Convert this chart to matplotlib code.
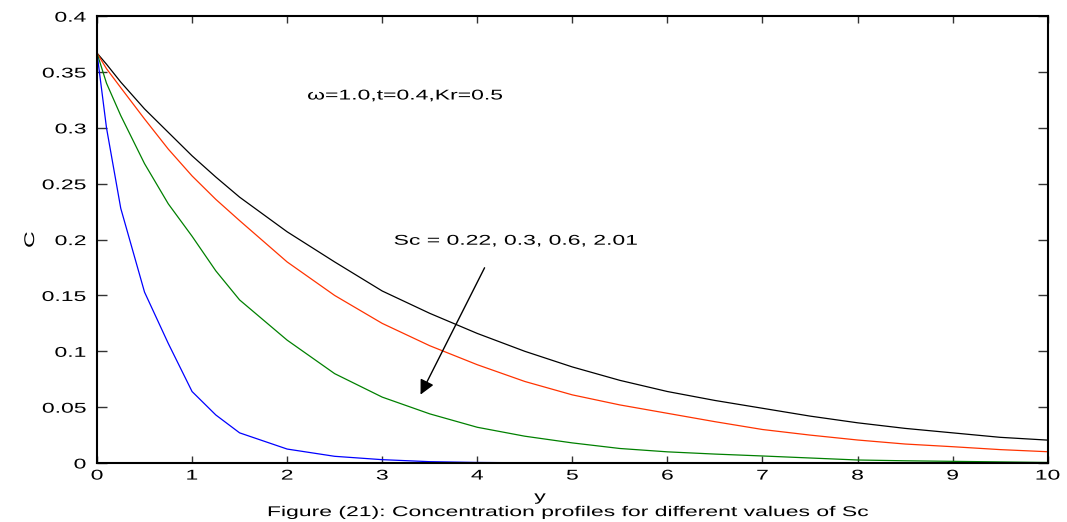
import matplotlib
matplotlib.use("Agg")
import matplotlib.pyplot as plt
from matplotlib.patheffects import AbstractPathEffect
from matplotlib.transforms import Affine2D

plt.rcParams['font.family'] = ['Liberation Sans', 'DejaVu Sans']

y_vals = [0, 0.1, 0.25, 0.5, 0.75, 1, 1.25, 1.5, 2, 2.5, 3, 3.5, 4, 4.5, 5,
          5.5, 6, 6.5, 7, 7.5, 8, 8.5, 9, 9.5, 10]

c_sc022 = [0.367, 0.357, 0.341, 0.317, 0.296, 0.275, 0.256, 0.238, 0.207, 0.180, 0.154, 0.134,
           0.116, 0.100, 0.086, 0.074, 0.064, 0.056, 0.049, 0.042, 0.036, 0.031, 0.027, 0.023,
           0.0205]
c_sc03 = [0.367, 0.353, 0.336, 0.308, 0.281, 0.257, 0.236, 0.217, 0.180, 0.150, 0.125, 0.105,
          0.088, 0.073, 0.061, 0.052, 0.0445, 0.037, 0.030, 0.025, 0.0206, 0.017, 0.0146, 0.012,
          0.0101]
c_sc06 = [0.367, 0.340, 0.311, 0.268, 0.232, 0.203, 0.172, 0.146, 0.110, 0.080, 0.059, 0.044,
          0.032, 0.024, 0.018, 0.013, 0.010, 0.008, 0.0063, 0.0045, 0.0027, 0.002, 0.0015, 0.001,
          0.0005]
c_sc201 = [0.367, 0.300, 0.228, 0.153, 0.107, 0.064, 0.043, 0.027, 0.0125, 0.006, 0.003, 0.0012,
           0.0005, 0.0002, 0.0001, 0.0, 0.0, 0.0, 0.0, 0.0, 0.0, 0.0, 0.0, 0.0, 0.0]

series = [(c_sc022, '#000000'), (c_sc03, '#ff3300'), (c_sc06, '#008000'), (c_sc201, '#0000ff')]

SX = 1.62  # horizontal stretch of the lettering seen in the reference


class HStretch(AbstractPathEffect):
    """Stretch glyphs horizontally (in text space) about left/center/right."""

    def __init__(self, sx=SX, anchor='left'):
        super().__init__()
        self.sx = sx
        self.anchor = anchor

    def draw_path(self, renderer, gc, tpath, affine, rgbFace=None):
        ext = tpath.get_extents()
        if self.anchor == 'right':
            x0 = ext.x1
        elif self.anchor == 'center':
            x0 = 0.5 * (ext.x0 + ext.x1)
        else:
            x0 = 0.0
        pre = Affine2D().translate(-x0, 0).scale(self.sx, 1).translate(x0, 0)
        renderer.draw_path(gc, tpath, pre + affine, rgbFace)


FS = 10.2

fig = plt.figure(figsize=(10.67, 5.22), dpi=100)
ax = fig.add_axes([0.0909, 0.113, 0.891, 0.856])

for vals, col in series:
    ax.plot(y_vals, vals, color=col, lw=0.9)

ax.set_xlim(0, 10)
ax.set_ylim(0, 0.4)
ax.set_xticks(range(0, 11))
ax.set_yticks([0, 0.05, 0.1, 0.15, 0.2, 0.25, 0.3, 0.35, 0.4])
ax.set_yticklabels(['0', '0.05', '0.1', '0.15', '0.2', '0.25', '0.3', '0.35', '0.4'])
ax.tick_params(direction='in', top=True, right=True, labelsize=FS, width=1, color='#333333')
ax.tick_params(axis='y', length=7, pad=8)
ax.tick_params(axis='x', length=5, pad=4)
for s in ax.spines.values():
    s.set_linewidth(1.5)

xl = ax.set_xlabel('y', fontsize=FS)
ax.xaxis.set_label_coords(0.466, -0.06)
xl.set_path_effects([HStretch(anchor='center')])
yl = ax.set_ylabel('C', fontsize=FS)
ax.yaxis.set_label_coords(-0.063, 0.5)
yl.set_path_effects([HStretch(anchor='center')])

ax.text(2.21, 0.329, 'ω=1.0,t=0.4,Kr=0.5', fontsize=FS, va='center', ha='left',
        path_effects=[HStretch(anchor='left')])
ax.text(3.12, 0.199, 'Sc = 0.22, 0.3, 0.6, 2.01', fontsize=FS, va='center', ha='left',
        path_effects=[HStretch(anchor='left')])
ax.annotate('', xy=(3.39, 0.059), xytext=(4.09, 0.177),
            arrowprops=dict(arrowstyle='-|>', color='black', lw=1.0, mutation_scale=22))

fig.text(0.533, 0.019, 'Figure (21): Concentration profiles for different values of Sc',
         fontsize=FS, ha='center', va='center', path_effects=[HStretch(anchor='center')])

fig.canvas.draw()
for t in ax.xaxis.get_major_ticks():
    t.label1.set_path_effects([HStretch(anchor='center')])
for t in ax.yaxis.get_major_ticks():
    t.label1.set_path_effects([HStretch(anchor='right')])

fig.savefig('out.png', dpi=100)
